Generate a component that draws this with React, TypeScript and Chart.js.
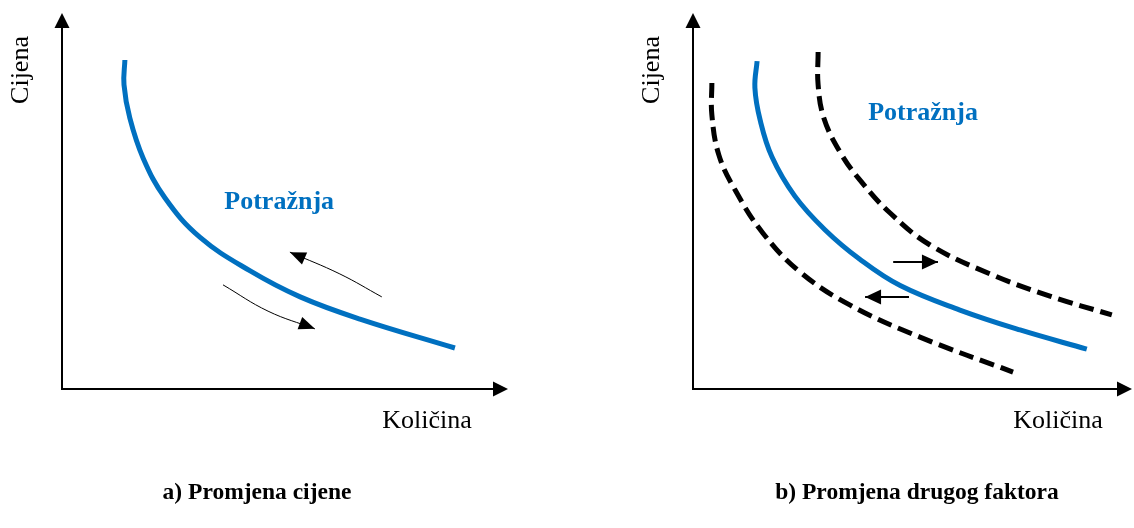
import React, { useEffect, useRef } from 'react';
import { Chart, registerables } from 'chart.js';

Chart.register(...registerables);

// ---------- DATA (quantity 0-100, price 0-100) ----------
const demandAQ = [14.1, 13.9, 15.2, 18.2, 23.1, 30.9, 42.2, 53.4, 66.8, 88.1];
const demandAP = [87.5, 80.9, 72.1, 61.4, 50.8, 40.4, 31.4, 24.5, 18.6, 10.9];

const moveUpQ = [71.7, 62.3, 51.1];
const moveUpP = [24.5, 30.6, 36.4];
const moveDownQ = [36.1, 46.2, 56.7];
const moveDownP = [27.7, 20.7, 16.0];

const demandBQ = [14.6, 14.1, 15.3, 18.0, 23.2, 30.1, 38.0, 47.2, 60.8, 74.5, 89.7];
const demandBP = [87.2, 80.1, 71.5, 61.7, 51.3, 42.3, 34.5, 27.5, 21.0, 15.7, 10.6];
const shiftLeftQ = [4.3, 4.3, 5.9, 9.6, 15.9, 24.4, 35.8, 51.7, 72.9];
const shiftLeftP = [81.4, 72.9, 62.2, 52.9, 41.5, 31.1, 22.3, 13.8, 4.5];
const shiftRightQ = [28.5, 28.5, 29.8, 33.5, 38.0, 44.9, 54.0, 67.7, 81.3, 95.4];
const shiftRightP = [89.6, 80.9, 72.1, 63.0, 55.6, 46.8, 38.3, 30.6, 24.7, 19.7];

const arrowRightQ = [45.6, 55.8];
const arrowRightP = [33.8, 33.8];
const arrowLeftQ = [49.2, 39.2];
const arrowLeftP = [24.5, 24.5];

const yTitle = 'Cijena';
const xTitle = 'Količina';
const curveLabel = 'Potražnja';
const captionA = 'a) Promjena cijene';
const captionB = 'b) Promjena drugog faktora';
const labelAPos = [48.7, 49.7];
const labelBPos = [52.4, 73.4];

const BLUE = '#0070C0';
const SERIF = '"Liberation Serif", "Times New Roman", serif';

const pts = (xs: number[], ys: number[]) => xs.map((x, i) => ({ x, y: ys[i] }));

function head(ctx: CanvasRenderingContext2D, x: number, y: number, ang: number, len: number, w: number) {
  ctx.save();
  ctx.translate(x, y);
  ctx.rotate(ang);
  ctx.beginPath();
  ctx.moveTo(0, 0);
  ctx.lineTo(-len, -w / 2);
  ctx.lineTo(-len, w / 2);
  ctx.closePath();
  ctx.fillStyle = '#000';
  ctx.fill();
  ctx.restore();
}

interface PanelCfg {
  padLeft: number;
  padRight: number;
  datasets: any[];
  label: number[];
  caption: string;
  captionX: number;
  xTitleX: number;
}

function makePlugin(cfg: PanelCfg) {
  return {
    id: 'decor',
    afterDatasetsDraw(chart: any) {
      const ctx: CanvasRenderingContext2D = chart.ctx;
      const a = chart.chartArea;
      const xs = chart.scales.x;
      const ys = chart.scales.y;
      ctx.save();
      // axes
      ctx.strokeStyle = '#000';
      ctx.lineWidth = 2;
      ctx.beginPath();
      ctx.moveTo(a.left, a.top + 14);
      ctx.lineTo(a.left, a.bottom);
      ctx.lineTo(a.right - 14, a.bottom);
      ctx.stroke();
      head(ctx, a.left, a.top, -Math.PI / 2, 15, 15);
      head(ctx, a.right, a.bottom, 0, 15, 15);
      // arrowheads on arrow datasets
      chart.data.datasets.forEach((ds: any) => {
        if (!ds.arrow) return;
        const d = ds.data;
        const p1 = d[d.length - 2];
        const p2 = d[d.length - 1];
        const x1 = xs.getPixelForValue(p1.x), y1 = ys.getPixelForValue(p1.y);
        const x2 = xs.getPixelForValue(p2.x), y2 = ys.getPixelForValue(p2.y);
        head(ctx, x2, y2, Math.atan2(y2 - y1, x2 - x1), ds.arrow[0], ds.arrow[1]);
      });
      // texts
      ctx.fillStyle = '#000';
      ctx.font = `26px ${SERIF}`;
      ctx.textAlign = 'center';
      ctx.textBaseline = 'middle';
      ctx.save();
      ctx.translate(a.left - 41, a.top + 57);
      ctx.rotate(-Math.PI / 2);
      ctx.fillText(yTitle, 0, 0);
      ctx.restore();
      ctx.textBaseline = 'alphabetic';
      ctx.fillText(xTitle, cfg.xTitleX, 428);
      ctx.fillStyle = BLUE;
      ctx.font = `bold 26px ${SERIF}`;
      ctx.textBaseline = 'middle';
      ctx.fillText(curveLabel, xs.getPixelForValue(cfg.label[0]), ys.getPixelForValue(cfg.label[1]));
      ctx.fillStyle = '#000';
      ctx.font = `bold 23.5px ${SERIF}`;
      ctx.textBaseline = 'alphabetic';
      ctx.fillText(cfg.caption, cfg.captionX, 499);
      ctx.restore();
    },
  };
}

function Panel({ cfg }: { cfg: PanelCfg }) {
  const ref = useRef<HTMLCanvasElement>(null);
  useEffect(() => {
    if (!ref.current) return;
    const chart = new Chart(ref.current, {
      type: 'line',
      data: { datasets: cfg.datasets },
      options: {
        responsive: false,
        animation: false,
        events: [],
        layout: { padding: { left: cfg.padLeft, right: cfg.padRight, top: 13, bottom: 139 } },
        scales: {
          x: { type: 'linear', min: 0, max: 100, display: false },
          y: { type: 'linear', min: 0, max: 100, display: false },
        },
        plugins: { legend: { display: false }, tooltip: { enabled: false } },
        elements: { point: { radius: 0 } },
      },
      plugins: [makePlugin(cfg)],
    } as any);
    return () => chart.destroy();
  }, []);
  return <canvas ref={ref} width={567} height={528} style={{ display: 'block' }} />;
}

const line = (data: any, color: string, width: number, extra: any = {}) => ({
  data,
  borderColor: color,
  backgroundColor: color,
  borderWidth: width,
  tension: 0.4,
  fill: false,
  clip: false,
  pointRadius: 0,
  ...extra,
});

const panelA: PanelCfg = {
  padLeft: 62,
  padRight: 59,
  datasets: [
    line(pts(demandAQ, demandAP), BLUE, 5),
    line(pts(moveUpQ, moveUpP), '#000', 1, { arrow: [16, 13] }),
    line(pts(moveDownQ, moveDownP), '#000', 1, { arrow: [16, 13] }),
  ],
  label: labelAPos,
  caption: captionA,
  captionX: 257,
  xTitleX: 427,
};

const panelB: PanelCfg = {
  padLeft: 126,
  padRight: 2,
  datasets: [
    line(pts(demandBQ, demandBP), BLUE, 5),
    line(pts(shiftLeftQ, shiftLeftP), '#000', 5, { borderDash: [15, 7] }),
    line(pts(shiftRightQ, shiftRightP), '#000', 5, { borderDash: [15, 7] }),
    line(pts(arrowRightQ, arrowRightP), '#000', 2, { tension: 0, arrow: [16, 15] }),
    line(pts(arrowLeftQ, arrowLeftP), '#000', 2, { tension: 0, arrow: [16, 15] }),
  ],
  label: labelBPos,
  caption: captionB,
  captionX: 350,
  xTitleX: 491,
};

export default function App() {
  return (
    <div style={{ position: 'absolute', left: 0, top: 0, width: 1134, height: 528, display: 'flex', background: '#fff' }}>
      <Panel cfg={panelA} />
      <Panel cfg={panelB} />
    </div>
  );
}
